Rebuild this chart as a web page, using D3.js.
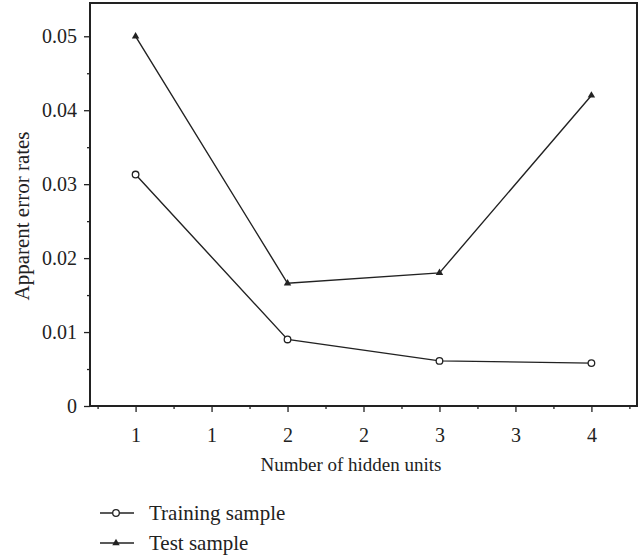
<!DOCTYPE html>
<html>
<head>
<meta charset="utf-8">
<script src="https://cdn.jsdelivr.net/npm/d3@7"></script>
<style>
  html, body { margin: 0; padding: 0; background: #fff; }
  svg { display: block; }
  text { font-family: "Liberation Serif", "Times New Roman", "DejaVu Serif", serif; fill: #222; }
</style>
</head>
<body>
<svg id="chart" width="643" height="558"></svg>
<script>
// Apparent error rates by number of hidden units
const hiddenUnits = [1, 2, 3, 4];
const trainingRates = [0.0313, 0.0090, 0.0061, 0.0058];
const testRates = [0.0500, 0.0166, 0.0180, 0.0420];
const xMajorTicks = [1, 1.5, 2, 2.5, 3, 3.5, 4];
const xMinorTicks = [0.75, 1.25, 1.75, 2.25, 2.75, 3.25, 3.75, 4.25];
const yMajorTicks = [0, 0.01, 0.02, 0.03, 0.04, 0.05];
const yMinorTicks = [0.005, 0.015, 0.025, 0.035, 0.045];
const seriesNames = ["Training sample", "Test sample"];

const svg = d3.select("#chart");
const frame = { left: 90, right: 637, top: 3, bottom: 406 };
const ink = "#222";
const serif = "'Liberation Serif', 'Times New Roman', 'DejaVu Serif', serif";

const x = d3.scaleLinear().domain([0.7, 4.3]).range([frame.left, frame.right]);
const y = d3.scaleLinear().domain([0, 0.0545]).range([frame.bottom, frame.top]);

// Y axis: major labelled ticks and unlabelled minor ticks
const yAxis = d3.axisLeft(y).tickValues(yMajorTicks).tickSize(6).tickPadding(7)
  .tickFormat(d => d === 0 ? "0" : d3.format(".2f")(d));
const gy = svg.append("g").attr("transform", `translate(${frame.left},0)`).call(yAxis);
gy.select(".domain").remove();
const gyMinor = svg.append("g").attr("transform", `translate(${frame.left},0)`)
  .call(d3.axisLeft(y).tickValues(yMinorTicks).tickSize(3).tickFormat(""));
gyMinor.select(".domain").remove();

// X axis: labels are floored, giving 1, 1, 2, 2, 3, 3, 4
const xAxis = d3.axisBottom(x).tickValues(xMajorTicks).tickSize(6).tickPadding(16)
  .tickFormat(d => String(Math.floor(d)));
const gx = svg.append("g").attr("transform", `translate(0,${frame.bottom})`).call(xAxis);
gx.select(".domain").remove();
const gxMinor = svg.append("g").attr("transform", `translate(0,${frame.bottom})`)
  .call(d3.axisBottom(x).tickValues(xMinorTicks).tickSize(3).tickFormat(""));
gxMinor.select(".domain").remove();

svg.selectAll("g").attr("font-family", serif);
svg.selectAll(".tick line").attr("stroke", ink).attr("stroke-width", 1.3);
svg.selectAll(".tick text").attr("font-size", 20).attr("fill", ink);

// Frame around the plotting area
svg.append("rect")
  .attr("x", frame.left).attr("y", frame.top)
  .attr("width", frame.right - frame.left).attr("height", frame.bottom - frame.top)
  .attr("fill", "none").attr("stroke", ink).attr("stroke-width", 2);

// Axis titles
svg.append("text")
  .attr("transform", "translate(29,216) rotate(-90)")
  .attr("text-anchor", "middle").attr("font-size", 21)
  .text("Apparent error rates");
svg.append("text")
  .attr("x", 351).attr("y", 471)
  .attr("text-anchor", "middle").attr("font-size", 19)
  .text("Number of hidden units");

// Series lines
const line = d3.line().x((d, i) => x(hiddenUnits[i])).y(d => y(d));
[trainingRates, testRates].forEach(vals => {
  svg.append("path").datum(vals).attr("d", line)
    .attr("fill", "none").attr("stroke", ink).attr("stroke-width", 1.4);
});

// Markers: open circles for training, filled triangles for test
const tri = d3.symbol().type(d3.symbolTriangle).size(24);
svg.selectAll(".train-pt").data(trainingRates).enter().append("circle")
  .attr("cx", (d, i) => x(hiddenUnits[i])).attr("cy", d => y(d)).attr("r", 3.3)
  .attr("fill", "#fff").attr("stroke", ink).attr("stroke-width", 1.3);
svg.selectAll(".test-pt").data(testRates).enter().append("path")
  .attr("d", tri)
  .attr("transform", (d, i) => `translate(${x(hiddenUnits[i])},${y(d)})`)
  .attr("fill", ink);

// Legend
const legend = svg.append("g");
const legendRows = [{ y: 513, kind: "circle" }, { y: 543, kind: "triangle" }];
legendRows.forEach((row, i) => {
  legend.append("line").attr("x1", 100).attr("x2", 134).attr("y1", row.y).attr("y2", row.y)
    .attr("stroke", ink).attr("stroke-width", 1.3);
  if (row.kind === "circle") {
    legend.append("circle").attr("cx", 116).attr("cy", row.y).attr("r", 3.3)
      .attr("fill", "#fff").attr("stroke", ink).attr("stroke-width", 1.3);
  } else {
    legend.append("path").attr("d", tri).attr("transform", `translate(116,${row.y})`).attr("fill", ink);
  }
  legend.append("text").attr("x", 149).attr("y", row.y + 7).attr("font-size", 21)
    .text(seriesNames[i]);
});
</script>
</body>
</html>
